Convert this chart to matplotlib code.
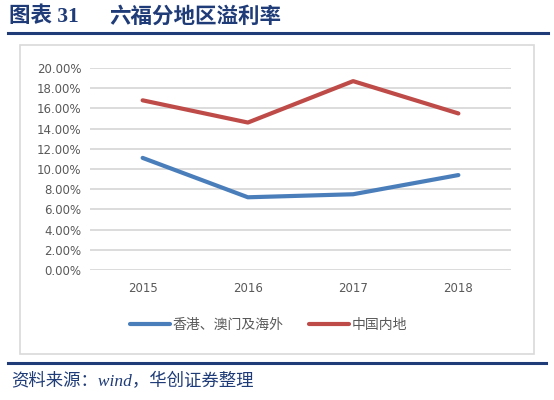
import matplotlib.pyplot as plt
import matplotlib.ticker as ticker
from matplotlib.patches import Rectangle
from matplotlib.lines import Line2D

plt.rcParams['font.family'] = ['Noto Sans CJK SC', 'DejaVu Sans']

# data
years = ['2015', '2016', '2017', '2018']
overseas = [0.111, 0.072, 0.075, 0.094]   # 香港、澳门及海外
mainland = [0.168, 0.146, 0.187, 0.155]   # 中国内地
series_names = ['香港、澳门及海外', '中国内地']

W, H = 554, 400
fig = plt.figure(figsize=(W / 100, H / 100), dpi=100)

navy = '#1F3C78'
grey_txt = '#595959'
serif_cjk = ['Liberation Serif', 'Noto Sans CJK SC']

# title and rules
fig.text(9 / W, 1 - 17 / H, '图表 31', fontsize=15.5,
         fontweight='bold', color=navy, va='center', ha='left', family=serif_cjk)
fig.text(109 / W, 1 - 17 / H, '六福分地区溢利率', fontsize=15.5,
         fontweight='bold', color=navy, va='center', ha='left', family=serif_cjk)
fig.add_artist(Line2D([8 / W, 548 / W], [1 - 33 / H] * 2, color=navy, lw=2.2))
fig.add_artist(Line2D([8 / W, 546 / W], [1 - 363 / H] * 2, color=navy, lw=2.2))
fig.text(11 / W, 1 - 382 / H, '资料来源：wind，华创证券整理', fontsize=12.5,
         style='italic', color=navy, va='center', ha='left', family=serif_cjk)

# chart frame
fig.add_artist(Rectangle((20 / W, 1 - 353.5 / H), 514 / W, 308.5 / H,
                         fill=False, edgecolor='#D9D9D9', lw=1.2))

ax = fig.add_axes([90 / W, 1 - 270 / H, 421 / W, 202 / H])
x = range(len(years))
l1, = ax.plot(x, overseas, color='#4A7EBB', lw=3, solid_capstyle='round')
l2, = ax.plot(x, mainland, color='#BE4B48', lw=3, solid_capstyle='round')

ax.set_xlim(-0.5, len(years) - 0.5)
ax.set_ylim(0, 0.20)
ax.yaxis.set_major_locator(ticker.MultipleLocator(0.02))
ax.yaxis.set_major_formatter(ticker.FuncFormatter(lambda v, p: f'{v * 100:.2f}%'))
ax.set_xticks(list(x))
ax.set_xticklabels(years)
ax.grid(axis='y', color='#D9D9D9', lw=1.3)
ax.set_axisbelow(True)
for s in ax.spines.values():
    s.set_visible(False)
ax.tick_params(length=0, labelsize=8.5, colors=grey_txt, pad=6)
ax.tick_params(axis='x', pad=9)
for lab in ax.get_yticklabels() + ax.get_xticklabels():
    lab.set_family('DejaVu Sans')

fig.legend([l1, l2], series_names, loc='center', bbox_to_anchor=(0.485, 1 - 325 / H),
           ncol=2, frameon=False, fontsize=10, labelcolor=grey_txt,
           handlelength=2.9, handletextpad=0.2, columnspacing=1.8)

fig.savefig('out.png', dpi=100)
